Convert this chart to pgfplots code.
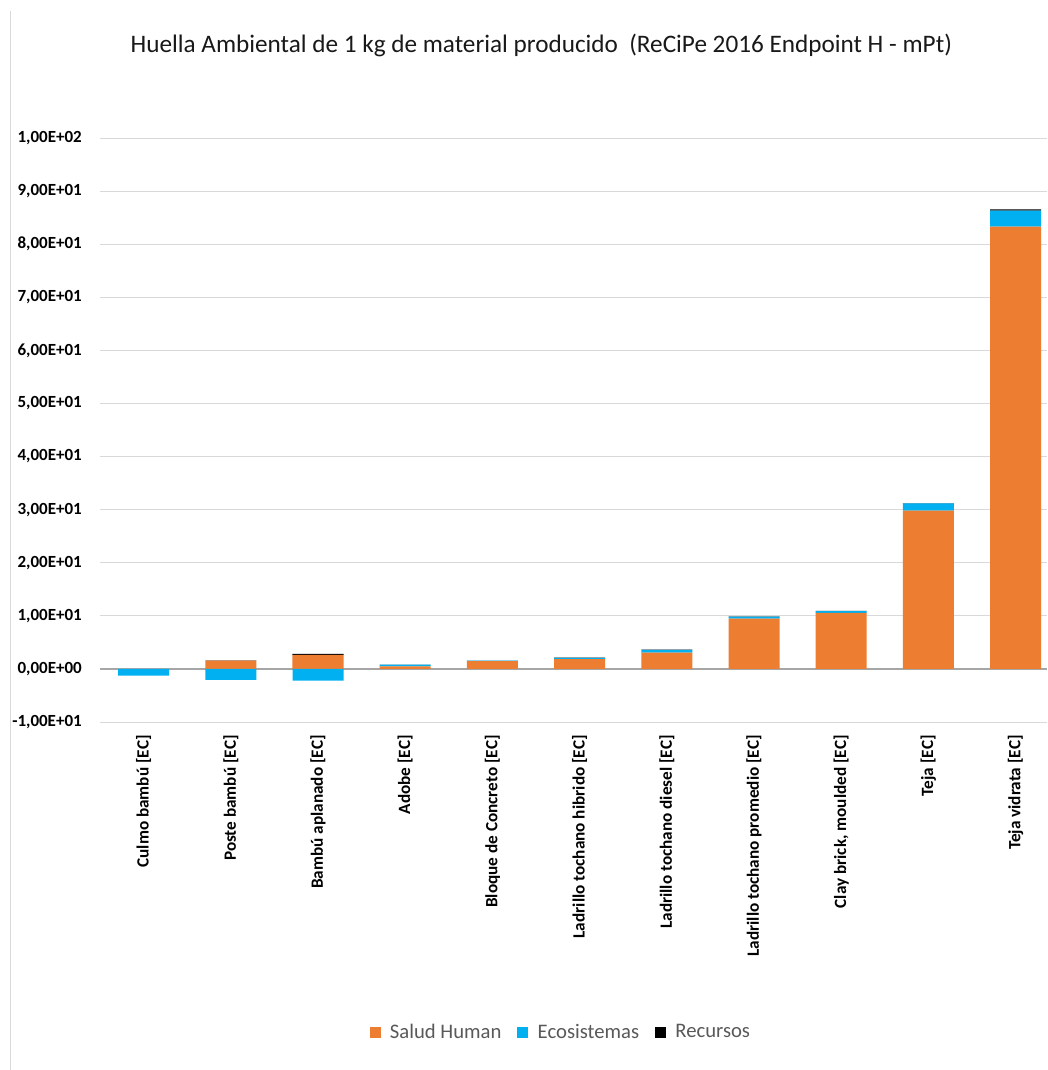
\documentclass[border=0pt]{standalone}
\usepackage{fontspec}
\setmainfont{Carlito}
\usepackage{pgfplots}
\pgfplotsset{compat=1.18}
\definecolor{sh}{HTML}{ED7D31}
\definecolor{eco}{HTML}{00B0F0}
\definecolor{rec}{HTML}{000000}
\definecolor{gridc}{HTML}{D9D9D9}
\definecolor{zeroc}{HTML}{A6A6A6}
\definecolor{legt}{HTML}{595959}
\pgfplotsset{
  /pgfplots/sq legend/.style={
    /pgfplots/legend image code/.code={\fill[##1] (0pt,-4.1pt) rectangle (8.2pt,4.1pt);}
  }
}
\begin{document}
\begin{tikzpicture}
\useasboundingbox (0,0) rectangle (785.25pt,-802.5pt);
\fill[white] (0,0) rectangle (785.25pt,-802.5pt);
\draw[gridc, line width=0.75pt] (7.5pt,-8.25pt) -- (7.5pt,-802.5pt);
\node[font=\fontsize{18.9}{23}\selectfont, anchor=center, text=black!90] at (406pt,-33.75pt)
  {Huella Ambiental de 1 kg de material producido\ \ (ReCiPe 2016 Endpoint H - mPt)};
\begin{axis}[
  at={(75pt,-541.5pt)}, anchor=south west,
  scale only axis, width=710.25pt, height=438pt,
  xmin=-0.5, xmax=10.36, ymin=-10, ymax=100,
  ybar stacked, bar width=0.585,
  axis line style={draw=none},
  major tick length=0pt,
  ymajorgrids, grid style={draw=gridc, line width=0.75pt},
  extra y ticks={0}, extra y tick labels={},
  extra y tick style={grid style={draw=zeroc, line width=0.9pt}},
  ytick={-10,0,10,20,30,40,50,60,70,80,90,100},
  yticklabels={{-1,00E+01},{0,00E+00},{1,00E+01},{2,00E+01},{3,00E+01},{4,00E+01},{5,00E+01},{6,00E+01},{7,00E+01},{8,00E+01},{9,00E+01},{1,00E+02}},
  yticklabel style={font=\fontsize{12.75}{15}\selectfont\bfseries, inner sep=0pt, anchor=east, text=black},
  yticklabel shift=13.5pt,
  xtick={0,1,2,3,4,5,6,7,8,9,10},
  xticklabels={{Culmo bambú [EC]},{Poste bambú [EC]},{Bambú aplanado [EC]},{Adobe [EC]},{Bloque de Concreto [EC]},{Ladrillo tochano hibrido [EC]},{Ladrillo tochano diesel [EC]},{Ladrillo tochano promedio [EC]},{Clay brick, moulded [EC]},{Teja [EC]},{Teja vidrata [EC]}},
  xticklabel style={font=\fontsize{12.9}{15}\selectfont\bfseries, rotate=90, anchor=east, inner sep=0pt, text=black},
  xticklabel shift=9.75pt,
  every axis plot post/.append style={sq legend},
  legend style={at={(0.487,-0.531)}, anchor=center, draw=none, fill=none,
    legend columns=3, font=\fontsize{15.5}{18}\selectfont, text=legt,
    /tikz/every even column/.append style={column sep=10pt},
    /tikz/every odd column/.append style={column sep=5pt}},
  legend cell align=left,
]
\addplot[fill=sh, draw=none] coordinates {
  (0,0) (1,1.57) (2,2.65) (3,0.50) (4,1.48) (5,1.85) (6,3.05) (7,9.48) (8,10.55) (9,29.8) (10,83.3)};
\addplot[fill=eco, draw=none] coordinates {
  (0,0) (1,0) (2,0) (3,0.30) (4,0.08) (5,0.25) (6,0.52) (7,0.35) (8,0.32) (9,1.40) (10,3.00)};
\addplot[fill=rec, draw=none] coordinates {
  (0,0) (1,0.02) (2,0.18) (3,0.02) (4,0.02) (5,0.03) (6,0.07) (7,0.05) (8,0.05) (9,0.05) (10,0.25)};
\legend{Salud Human, Ecosistemas, Recursos}
\end{axis}
\begin{axis}[
  at={(75pt,-541.5pt)}, anchor=south west,
  scale only axis, width=710.25pt, height=438pt,
  xmin=-0.5, xmax=10.36, ymin=-10, ymax=100,
  hide axis, ybar, bar width=0.585, bar shift=0pt,
]
\addplot[fill=eco, draw=none] coordinates {(0,-1.26) (1,-2.08) (2,-2.20)};
\end{axis}
\end{tikzpicture}
\end{document}
